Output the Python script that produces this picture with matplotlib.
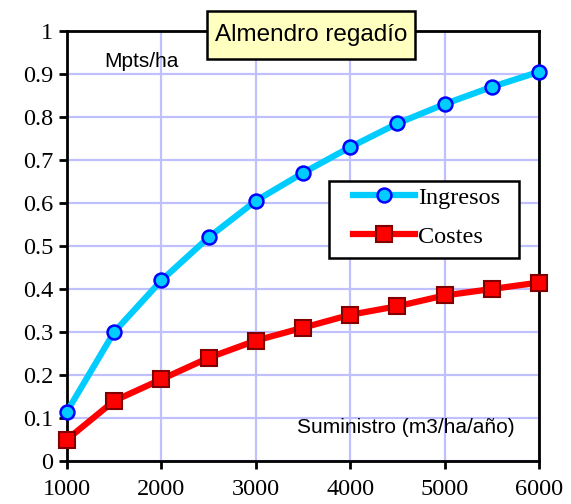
import matplotlib
matplotlib.use("Agg")
import matplotlib.pyplot as plt
from matplotlib.patches import Rectangle
from matplotlib.ticker import FormatStrFormatter, MultipleLocator

# suministro (m3/ha/año)
suministro = [1000, 1500, 2000, 2500, 3000, 3500, 4000, 4500, 5000, 5500, 6000]
ingresos = [0.115, 0.30, 0.42, 0.52, 0.605, 0.67, 0.73, 0.785, 0.83, 0.87, 0.905]
costes = [0.05, 0.14, 0.19, 0.24, 0.28, 0.31, 0.34, 0.36, 0.385, 0.40, 0.415]
labels = ['Ingresos', 'Costes']

serif = ['Liberation Serif', 'DejaVu Serif']
sans = ['Liberation Sans', 'DejaVu Sans']

fig = plt.figure(figsize=(5.71, 5.04), dpi=100)
ax = fig.add_axes([0.1173, 0.0853, 0.8267, 0.8532])

ax.plot(suministro, ingresos, color='#00ccff', lw=4.5, marker='o', ms=10,
        mfc='#00ccff', mec='#0000ff', mew=1.8, label=labels[0], zorder=3, clip_on=False)
ax.plot(suministro, costes, color='#ff0000', lw=4.5, marker='s', ms=11,
        mfc='#ff0000', mec='#800000', mew=1.5, label=labels[1], zorder=3, clip_on=False)

ax.set_xlim(1000, 6000)
ax.set_ylim(0, 1)
ax.xaxis.set_major_locator(MultipleLocator(1000))
ax.yaxis.set_major_locator(MultipleLocator(0.1))
ax.yaxis.set_major_formatter(FormatStrFormatter('%g'))
ax.grid(True, color='#c0c0ff', lw=1.6)
ax.set_axisbelow(True)

for s in ax.spines.values():
    s.set_linewidth(2)
ax.tick_params(direction='out', length=6, width=2, labelsize=17.5, pad=4)
for lab in ax.get_xticklabels() + ax.get_yticklabels():
    lab.set_family(serif)
ax.tick_params(axis='x', pad=7)

# marco de la leyenda dibujado aparte (más ancho que el de matplotlib)
ax.add_patch(Rectangle((0.555, 0.472), 0.403, 0.179, transform=ax.transAxes,
                       facecolor='white', edgecolor='black', lw=1.8, zorder=4.5))
leg = ax.legend(loc='center left', bbox_to_anchor=(0.606, 0.567), borderaxespad=0,
                frameon=False, prop={'family': serif, 'size': 17.5}, handlelength=2.55,
                handletextpad=0.12, borderpad=0, labelspacing=0.71)
leg.set_zorder(5)

ax.text(0.078, 0.928, 'Mpts/ha', transform=ax.transAxes, fontsize=15,
        family=sans, ha='left', va='center')
ax.text(0.949, 0.077, 'Suministro (m3/ha/año)', transform=ax.transAxes, fontsize=15,
        family=sans, ha='right', va='center')

# caja del título
fig.patches.append(Rectangle((0.3625, 0.8829), 0.3643, 0.0952, transform=fig.transFigure,
                             facecolor='#ffffc0', edgecolor='black', lw=1.8, zorder=5))
fig.text(0.5447, 0.931, 'Almendro regadío', fontsize=17.5, family=sans,
         ha='center', va='center', zorder=6)

plt.savefig('out.png', dpi=100)
